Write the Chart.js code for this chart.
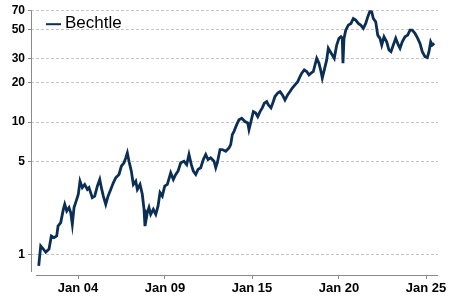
<!DOCTYPE html>
<html lang="en">
<head>
  <meta charset="UTF-8">
  <title>Bechtle</title>
  <script src="https://cdn.jsdelivr.net/npm/chart.js"></script>
  <style>
    html, body { margin: 0; padding: 0; background: #fff; }
    #wrap { width: 450px; height: 300px; }
  </style>
</head>
<body>
  <div id="wrap"><canvas id="chart" width="450" height="300"></canvas></div>
  <script>
    const seriesName = 'Bechtle';
    // trading-session index
    const sessions = [
      0, 29, 67, 102, 149, 183, 222, 261, 280, 319,
      357, 377, 406, 439, 464, 487, 512, 551, 574, 599,
      632, 667, 705, 729, 777, 812, 850, 885, 914, 937,
      972, 1005, 1044, 1082, 1117, 1164, 1198, 1237, 1262, 1285,
      1309, 1343, 1372, 1407, 1430, 1469, 1502, 1527, 1541, 1575,
      1599, 1624, 1662, 1697, 1730, 1759, 1792, 1827, 1865, 1914,
      1952, 1987, 2020, 2059, 2107, 2146, 2179, 2213, 2242, 2277,
      2310, 2349, 2387, 2422, 2455, 2494, 2542, 2567, 2590, 2629,
      2662, 2712, 2759, 2784, 2807, 2832, 2871, 2904, 2944, 2991,
      3031, 3049, 3078, 3112, 3147, 3176, 3209, 3242, 3271, 3306,
      3329, 3368, 3402, 3426, 3466, 3499, 3532, 3571, 3611, 3644,
      3677, 3716, 3756, 3789, 3814, 3851, 3886, 3919, 3948, 3982,
      4006, 4031, 4064, 4093, 4112, 4141, 4176, 4199, 4228, 4257,
      4286, 4321, 4354, 4383, 4402, 4412, 4427, 4452, 4489, 4528,
      4562, 4597, 4634, 4669, 4707, 4742, 4771, 4804, 4829, 4852,
      4887, 4916, 4949, 4974, 5007, 5046, 5079, 5108, 5142, 5177,
      5214, 5239, 5272, 5311, 5351, 5384, 5417, 5456, 5496, 5529,
      5562, 5601, 5635, 5659, 5684, 5707, 5736
    ];
    const prices = [
      0.82, 1.16, 1.10, 1.04, 1.10, 1.38, 1.34, 1.38, 1.64, 1.74,
      2.19, 2.39, 2.13, 2.26, 2.07, 1.69, 2.26, 2.61, 2.85, 3.58,
      3.20, 3.38, 3.10, 3.20, 2.69, 2.76, 3.28, 3.69, 3.10, 2.76,
      2.39, 2.76, 3.10, 3.48, 3.80, 4.02, 4.64, 4.93, 5.37, 5.86,
      5.06, 4.26, 3.38, 3.58, 3.10, 3.38, 2.85, 2.19, 1.64, 2.07,
      2.26, 2.01, 2.19, 2.01, 2.32, 2.93, 2.76, 3.28, 3.38, 4.14,
      3.69, 4.02, 4.26, 4.93, 5.06, 4.78, 5.69, 4.78, 4.26, 4.02,
      4.39, 4.52, 5.22, 5.69, 5.22, 5.37, 5.06, 4.52, 4.93, 6.20,
      6.20, 6.02, 6.39, 6.76, 8.04, 8.51, 9.56, 10.4, 10.7, 10.1,
      9.84, 8.77, 10.1, 12.0, 11.7, 11.0, 12.0, 12.8, 13.9, 14.3,
      13.5, 12.8, 14.3, 15.6, 16.6, 17.0, 16.1, 14.7, 16.1, 17.0,
      18.1, 19.1, 20.2, 22.1, 23.4, 24.8, 24.1, 22.7, 23.4, 24.1,
      27.0, 30.3, 27.8, 24.1, 21.5, 24.8, 29.5, 36.1, 34.0, 32.1,
      30.3, 38.2, 42.9, 44.1, 42.9, 27.8, 42.9, 49.5, 54.0, 55.6,
      60.6, 58.9, 55.6, 54.0, 51.0, 55.6, 62.3, 69.0, 68.0, 60.6,
      57.2, 45.4, 42.9, 38.2, 44.1, 40.4, 35.0, 34.0, 38.2, 42.9,
      38.2, 36.1, 40.4, 44.1, 45.4, 49.5, 49.5, 46.8, 42.9, 39.3,
      34.0, 31.2, 30.7, 34.0, 40.4, 38.2, 39.3
    ];
    const yTicks = [1, 5, 10, 20, 30, 50, 70];
    const xTickSessions = [570, 1831, 3093, 4354, 5616];
    const xTickLabels = ['Jan 04', 'Jan 09', 'Jan 15', 'Jan 20', 'Jan 25'];

    const lineColor = '#0b2e55';
    const axisColor = '#8a8a8a';
    const fontFamily = '"Liberation Sans", Arial, sans-serif';

    // axis lines: y and x don't touch in the original
    const axisLines = {
      id: 'axisLines',
      afterDraw(chart) {
        const { ctx, chartArea: a } = chart;
        ctx.save();
        ctx.strokeStyle = axisColor;
        ctx.lineWidth = 1;
        ctx.beginPath();
        ctx.moveTo(a.left + 0.5, a.top);
        ctx.lineTo(a.left + 0.5, a.bottom - 3);
        ctx.moveTo(a.left + 5, a.bottom + 0.5);
        ctx.lineTo(a.right, a.bottom + 0.5);
        ctx.stroke();
        ctx.restore();
      }
    };

    // legend inside the plot, top left
    const insideLegend = {
      id: 'insideLegend',
      afterDraw(chart) {
        const { ctx, chartArea: a } = chart;
        const ds = chart.data.datasets[0];
        const x = a.left + 15, y = a.top + 14;
        ctx.save();
        ctx.strokeStyle = ds.borderColor;
        ctx.lineWidth = 2;
        ctx.beginPath();
        ctx.moveTo(x, y);
        ctx.lineTo(x + 15, y);
        ctx.stroke();
        ctx.fillStyle = '#000';
        ctx.font = '17px ' + fontFamily;
        ctx.textBaseline = 'alphabetic';
        ctx.fillText(ds.label, x + 19, y + 4);
        ctx.restore();
      }
    };

    new Chart(document.getElementById('chart'), {
      type: 'line',
      data: {
        datasets: [{
          label: seriesName,
          data: sessions.map((s, i) => ({ x: s, y: prices[i] })),
          borderColor: lineColor,
          borderWidth: 2.8,
          pointRadius: 0,
          tension: 0,
          fill: false
        }]
      },
      options: {
        responsive: false,
        animation: false,
        layout: { padding: { top: 10, right: 12, left: 0, bottom: 0 } },
        plugins: {
          legend: { display: false },
          tooltip: { enabled: false }
        },
        scales: {
          x: {
            type: 'linear',
            min: -112,
            max: 5790,
            afterBuildTicks: (scale) => {
              scale.ticks = xTickSessions.map(v => ({ value: v }));
            },
            afterFit: (scale) => { scale.height = 25; },
            border: { display: false },
            grid: {
              drawOnChartArea: false,
              drawTicks: true,
              tickLength: 4,
              tickColor: axisColor
            },
            ticks: {
              autoSkip: false,
              maxRotation: 0,
              padding: 2,
              color: '#000',
              font: { family: fontFamily, size: 13, weight: 'bold' },
              callback: (v) => xTickLabels[xTickSessions.indexOf(v)]
            }
          },
          y: {
            type: 'logarithmic',
            min: 0.712,
            max: 70,
            afterBuildTicks: (scale) => {
              scale.ticks = yTicks.map(v => ({ value: v }));
            },
            afterFit: (scale) => { scale.width = 31; },
            border: { display: false, dash: [3, 2] },
            grid: {
              color: '#c4c4c4',
              lineWidth: 1,
              tickLength: 3,
              tickColor: axisColor,
              tickBorderDash: []
            },
            ticks: {
              autoSkip: false,
              padding: 3,
              color: '#000',
              font: { family: fontFamily, size: 12, weight: 'bold' },
              callback: (v) => String(v)
            }
          }
        }
      },
      plugins: [axisLines, insideLegend]
    });
  </script>
</body>
</html>
